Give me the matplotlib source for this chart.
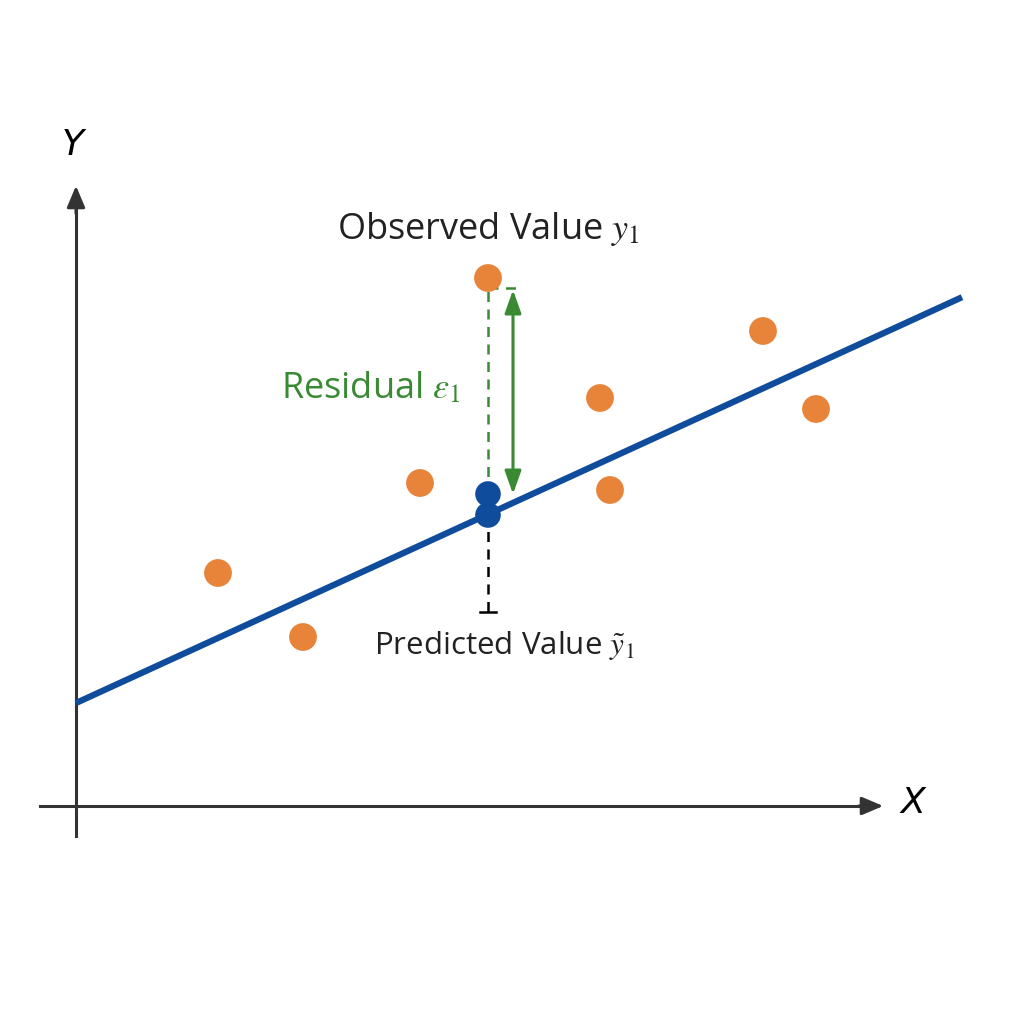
import matplotlib
matplotlib.use("Agg")
import matplotlib.pyplot as plt
import numpy as np

plt.rcParams['font.family'] = ['Open Sans', 'DejaVu Sans']
plt.rcParams['mathtext.fontset'] = 'stix'

# Data (coordinates relative to origin, y up)
obs_x = [142, 227, 344, 412, 524, 534, 687, 740]
obs_y = [233, 169, 323, 528, 408, 316, 475, 397]
line_x = [0, 886]
intercept = 103
slope = 0.458
focus_x = 412
focus_obs = 528
pred_pts_y = [312, 291]

ORANGE = "#E8833A"
BLUE = "#0F4C9C"
GREEN = "#3A8A34"
AXC = "#333333"

fig = plt.figure(figsize=(10.24, 10.24), dpi=100)
ax = fig.add_axes([0, 0, 1, 1])
ax.set_xlim(-76, 948)
ax.set_ylim(-218, 806)
ax.axis("off")

# axes arrows
ax.plot([-36, 790], [0, 0], color=AXC, lw=2.2, zorder=1)
ax.annotate("", xy=(810, 0), xytext=(780, 0),
            arrowprops=dict(arrowstyle="-|>,head_length=1.3,head_width=0.55", color=AXC, lw=2.2))
ax.plot([0, 0], [-30, 600], color=AXC, lw=2.2, zorder=1)
ax.annotate("", xy=(0, 623), xytext=(0, 590),
            arrowprops=dict(arrowstyle="-|>,head_length=1.3,head_width=0.55", color=AXC, lw=2.2))
ax.text(-3, 661, "Y", fontsize=26, style="italic", ha="center", va="center", color="black",
        family="DejaVu Sans")
ax.text(837, 3, "X", fontsize=26, style="italic", ha="center", va="center", color="black",
        family="DejaVu Sans")

# regression line
lx = np.array(line_x)
ax.plot(lx, intercept + slope * lx, color=BLUE, lw=4.5, zorder=2, solid_capstyle="butt")

# observed points
ax.scatter(obs_x, obs_y, s=400, color=ORANGE, zorder=3, edgecolors="none")

# residual guides
pred_y = intercept + slope * focus_x
ax.plot([focus_x, focus_x], [pred_pts_y[0], focus_obs - 12], color=GREEN, lw=1.8, ls=(0, (4, 3)), zorder=2)
ax.plot([focus_x, focus_x + 32], [focus_obs - 10, focus_obs - 10], color=GREEN, lw=1.8, ls=(0, (4, 3)), zorder=2)
ax.annotate("", xy=(437, pred_pts_y[0]), xytext=(437, focus_obs - 12),
            arrowprops=dict(arrowstyle="<|-|>,head_length=1.4,head_width=0.5", color=GREEN, lw=2.2,
                            shrinkA=0, shrinkB=0))

# predicted dashed down
ax.plot([focus_x, focus_x], [pred_y, 194], color="black", lw=1.8, ls=(0, (4, 3)), zorder=1)
ax.plot([focus_x - 8, focus_x + 8], [194, 194], color="black", lw=1.8)

# predicted points
ax.scatter([focus_x, focus_x], pred_pts_y, s=340, color=BLUE, zorder=4, edgecolors="none")

# labels
ax.text(412, 577, r"Observed Value $y_1$", fontsize=26, ha="center", va="center", color="#222222")
ax.text(295, 417, r"Residual $\varepsilon_1$", fontsize=26, ha="center", va="center", color=GREEN)
ax.text(428, 160, r"Predicted Value $\tilde{y}_1$", fontsize=22.5, ha="center", va="center", color="#222222")

fig.savefig("out.png", dpi=100, facecolor="white")
